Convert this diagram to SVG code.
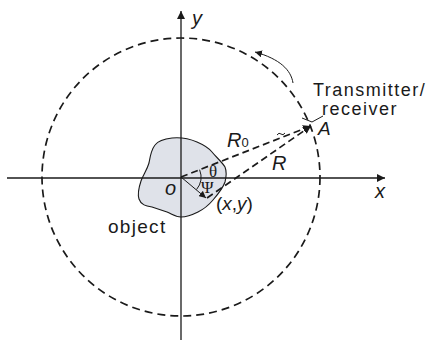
<svg xmlns="http://www.w3.org/2000/svg" width="432" height="341" viewBox="0 0 432 341">
<defs>
<style>
.ax{stroke:#1a1a1a;stroke-width:1.3;fill:none}
.dash{stroke:#1a1a1a;stroke-width:1.7;fill:none;stroke-dasharray:7 4}
.circ{stroke:#1a1a1a;stroke-width:1.7;fill:none;stroke-dasharray:8 5}
.thin{stroke:#1a1a1a;stroke-width:1;fill:none}
.t{font-family:"Liberation Sans",Arial,sans-serif;fill:#1a1a1a}
.i{font-style:italic}
.s{font-family:"Liberation Serif","Times New Roman",serif;fill:#1a1a1a}
</style>
<marker id="ah" viewBox="0 0 10 10" refX="10" refY="5" markerWidth="8" markerHeight="8" markerUnits="userSpaceOnUse" orient="auto">
<path d="M0,0 L10,5 L0,10 z" fill="#1a1a1a"/>
</marker>
<marker id="ahs" viewBox="0 0 10 10" refX="10" refY="5" markerWidth="7" markerHeight="7" markerUnits="userSpaceOnUse" orient="auto">
<path d="M0,0 L10,5 L0,10 z" fill="#1a1a1a"/>
</marker>
</defs>
<rect width="432" height="341" fill="#ffffff"/>
<g id="object">
<path d="M155,145 C158,141 163,139 172,138 C182,137 190,139 197,142 C204,145 208,147 212,152 C216,157 222,162 225,167 C227,172 226,178 225,182 C223,188 219,193 213,200 C208,206 204,209 198,212 C192,215 187,217 181,217 C175,217 172,214 167,212 C161,210 158,209 152,207 C146,206 141,205 139,199 C137,193 139,187 141,181 C143,175 147,170 149,163 C150,157 151,150 155,145 Z" fill="#dfe2e9" stroke="#1a1a1a" stroke-width="1.1"/>
</g>
<g id="circle">
<circle cx="181" cy="177" r="139" class="circ"/>
</g>
<g id="axes">
<line x1="181" y1="340" x2="181" y2="11" class="ax" marker-end="url(#ah)"/>
<line x1="7" y1="178" x2="385" y2="178" class="ax" marker-end="url(#ah)"/>
</g>
<g id="connectors">
<line x1="181" y1="177" x2="311" y2="126" class="dash" marker-end="url(#ah)"/>
<line x1="207" y1="198" x2="311" y2="126" class="dash" marker-end="url(#ah)"/>
<line x1="181" y1="177" x2="206" y2="198" class="thin" marker-end="url(#ahs)"/>
<path d="M199.6,169.7 A20,20 0 0 1 196.5,189.6" class="thin"/>
<path d="M293,83 C291,70 280,59 255,52" class="thin" marker-end="url(#ahs)"/>
<path d="M277,135 q2,-3 4,-1 t4,-1" class="thin"/>
<polyline points="302,118 312,122 323,116" class="thin"/>
</g>
<g id="labels">
<text x="192" y="25" class="t i" font-size="20">y</text>
<text x="375" y="198" class="t i" font-size="20">x</text>
<text x="165" y="195" class="t i" font-size="20">o</text>
<text x="108" y="233" class="t" font-size="19" letter-spacing="1.3">object</text>
<text x="216" y="210" class="t" font-size="19">(<tspan class="i">x</tspan>,<tspan class="i">y</tspan>)</text>
<text x="227" y="147" class="t i" font-size="20">R<tspan font-style="normal" font-size="13">0</tspan></text>
<text x="272" y="170" class="t i" font-size="20">R</text>
<text x="318" y="135" class="t i" font-size="19">A</text>
<text x="209" y="177" class="s" font-size="17">θ</text>
<text x="201" y="193" class="s" font-size="17">Ψ</text>
<text x="313" y="96" class="t" font-size="18" letter-spacing="1.5">Transmitter/</text>
<text x="322" y="115" class="t" font-size="18" letter-spacing="1.5">receiver</text>
</g>
</svg>
